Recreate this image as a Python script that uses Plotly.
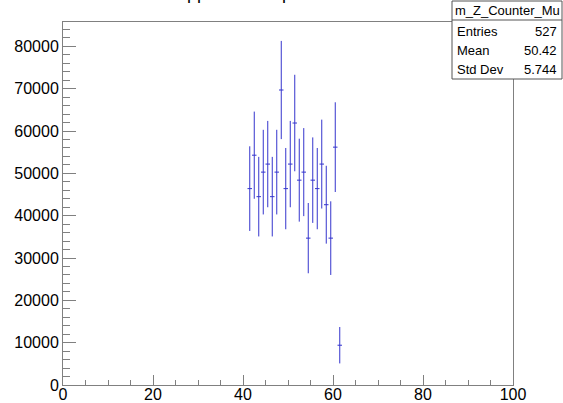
import plotly.graph_objects as go

# ---- data ----
bin_centers = [41.5, 42.5, 43.5, 44.5, 45.5, 46.5, 47.5, 48.5, 49.5, 50.5, 51.5,
               52.5, 53.5, 54.5, 55.5, 56.5, 57.5, 58.5, 59.5, 60.5, 61.5]
bin_values = [46400, 54300, 44500, 50300, 52200, 44500, 50300, 69700, 46400, 52200, 61900,
              48400, 50300, 34700, 48400, 46400, 52200, 42600, 34700, 56200, 9400]
bin_errors = [10000, 10300, 9400, 10000, 10200, 9400, 10000, 11600, 9600, 10200, 11400,
              9800, 10400, 8300, 10100, 9600, 10500, 9200, 8700, 10600, 4300]
bin_half_width = [0.5] * len(bin_centers)

x_tickvals = [0, 20, 40, 60, 80, 100]
y_tickvals = [0, 10000, 20000, 30000, 40000, 50000, 60000, 70000, 80000]
y_ticktext = ["0", "10000", "20000", "30000", "40000", "50000", "60000", "70000", "80000"]

stats_title = "m_Z_Counter_Mu"
stats_names = ["Entries", "Mean", "Std Dev"]
stats_values = ["527", "50.42", "5.744"]
hist_title = "Mapped Muon position"

FONT = "Liberation Sans, Arial, sans-serif"
LINE = "rgb(52,52,205)"

fig = go.Figure()
fig.add_trace(go.Scatter(
    x=bin_centers, y=bin_values, mode="markers",
    marker=dict(size=1, color=LINE, opacity=0),
    error_x=dict(type="data", array=bin_half_width, width=0, thickness=1, color=LINE),
    error_y=dict(type="data", array=bin_errors, width=0, thickness=1, color=LINE),
    showlegend=False, hoverinfo="x+y",
))

W, H = 563, 403
L, R, T, B = 63, 513, 22, 385

def px(xp):
    return (xp - L) / (R - L)

def py(yp):
    return (B - yp) / (B - T)

axcol = "#808080"
fig.update_layout(
    width=W, height=H,
    margin=dict(l=L, r=W - R, t=T, b=H - B, pad=0, autoexpand=False),
    paper_bgcolor="white", plot_bgcolor="white",
    font=dict(family=FONT, size=16, color="black"),
    xaxis=dict(range=[0, 100], tickvals=x_tickvals, ticks="inside", ticklen=10,
               tickcolor=axcol, tickwidth=1, showline=True, linecolor=axcol, linewidth=1,
               mirror=True, showgrid=False, zeroline=False, ticklabelstandoff=-5,
               automargin=False,
               minor=dict(dtick=5, ticks="inside", ticklen=5, tickcolor=axcol, showgrid=False),
               tickfont=dict(family=FONT, size=16)),
    yaxis=dict(range=[0, 85770], tickvals=y_tickvals, ticktext=y_ticktext,
               ticks="inside", ticklen=13, automargin=False,
               tickcolor=axcol, tickwidth=1, showline=True, linecolor=axcol, linewidth=1,
               mirror=True, showgrid=False, zeroline=False,
               minor=dict(dtick=2000, ticks="inside", ticklen=7, tickcolor=axcol, showgrid=False),
               tickfont=dict(family=FONT, size=16)),
)

# stats box
bx0, bx1 = 452, 562
by0, by1, bdiv = 1, 79, 20
fig.add_shape(type="rect", xref="paper", yref="paper",
              x0=px(bx0), x1=px(bx1), y0=py(by1), y1=py(by0),
              line=dict(color="#555555", width=1), fillcolor="white", layer="above")
fig.add_shape(type="line", xref="paper", yref="paper",
              x0=px(bx0), x1=px(bx1), y0=py(bdiv), y1=py(bdiv),
              line=dict(color="#555555", width=1), layer="above")
fig.add_annotation(xref="paper", yref="paper", x=px((bx0 + bx1) / 2), y=py(10.5),
                   text=stats_title, showarrow=False, xanchor="center", yanchor="middle",
                   font=dict(family=FONT, size=13))
row_y = [31.5, 50.5, 69.5]
for name, val, yy in zip(stats_names, stats_values, row_y):
    fig.add_annotation(xref="paper", yref="paper", x=px(bx0 + 3), y=py(yy),
                       text=name, showarrow=False, xanchor="left", yanchor="middle",
                       font=dict(family=FONT, size=13))
    fig.add_annotation(xref="paper", yref="paper", x=px(bx1 - 3), y=py(yy),
                       text=val, showarrow=False, xanchor="right", yanchor="middle",
                       font=dict(family=FONT, size=13))

# title (mostly cut off at the top of the page, as in the reference)
fig.add_annotation(xref="paper", yref="paper", x=px(160), y=py(5),
                   text=hist_title, showarrow=False, xanchor="left", yanchor="bottom",
                   font=dict(family=FONT, size=18))

fig.write_html("out.html")
